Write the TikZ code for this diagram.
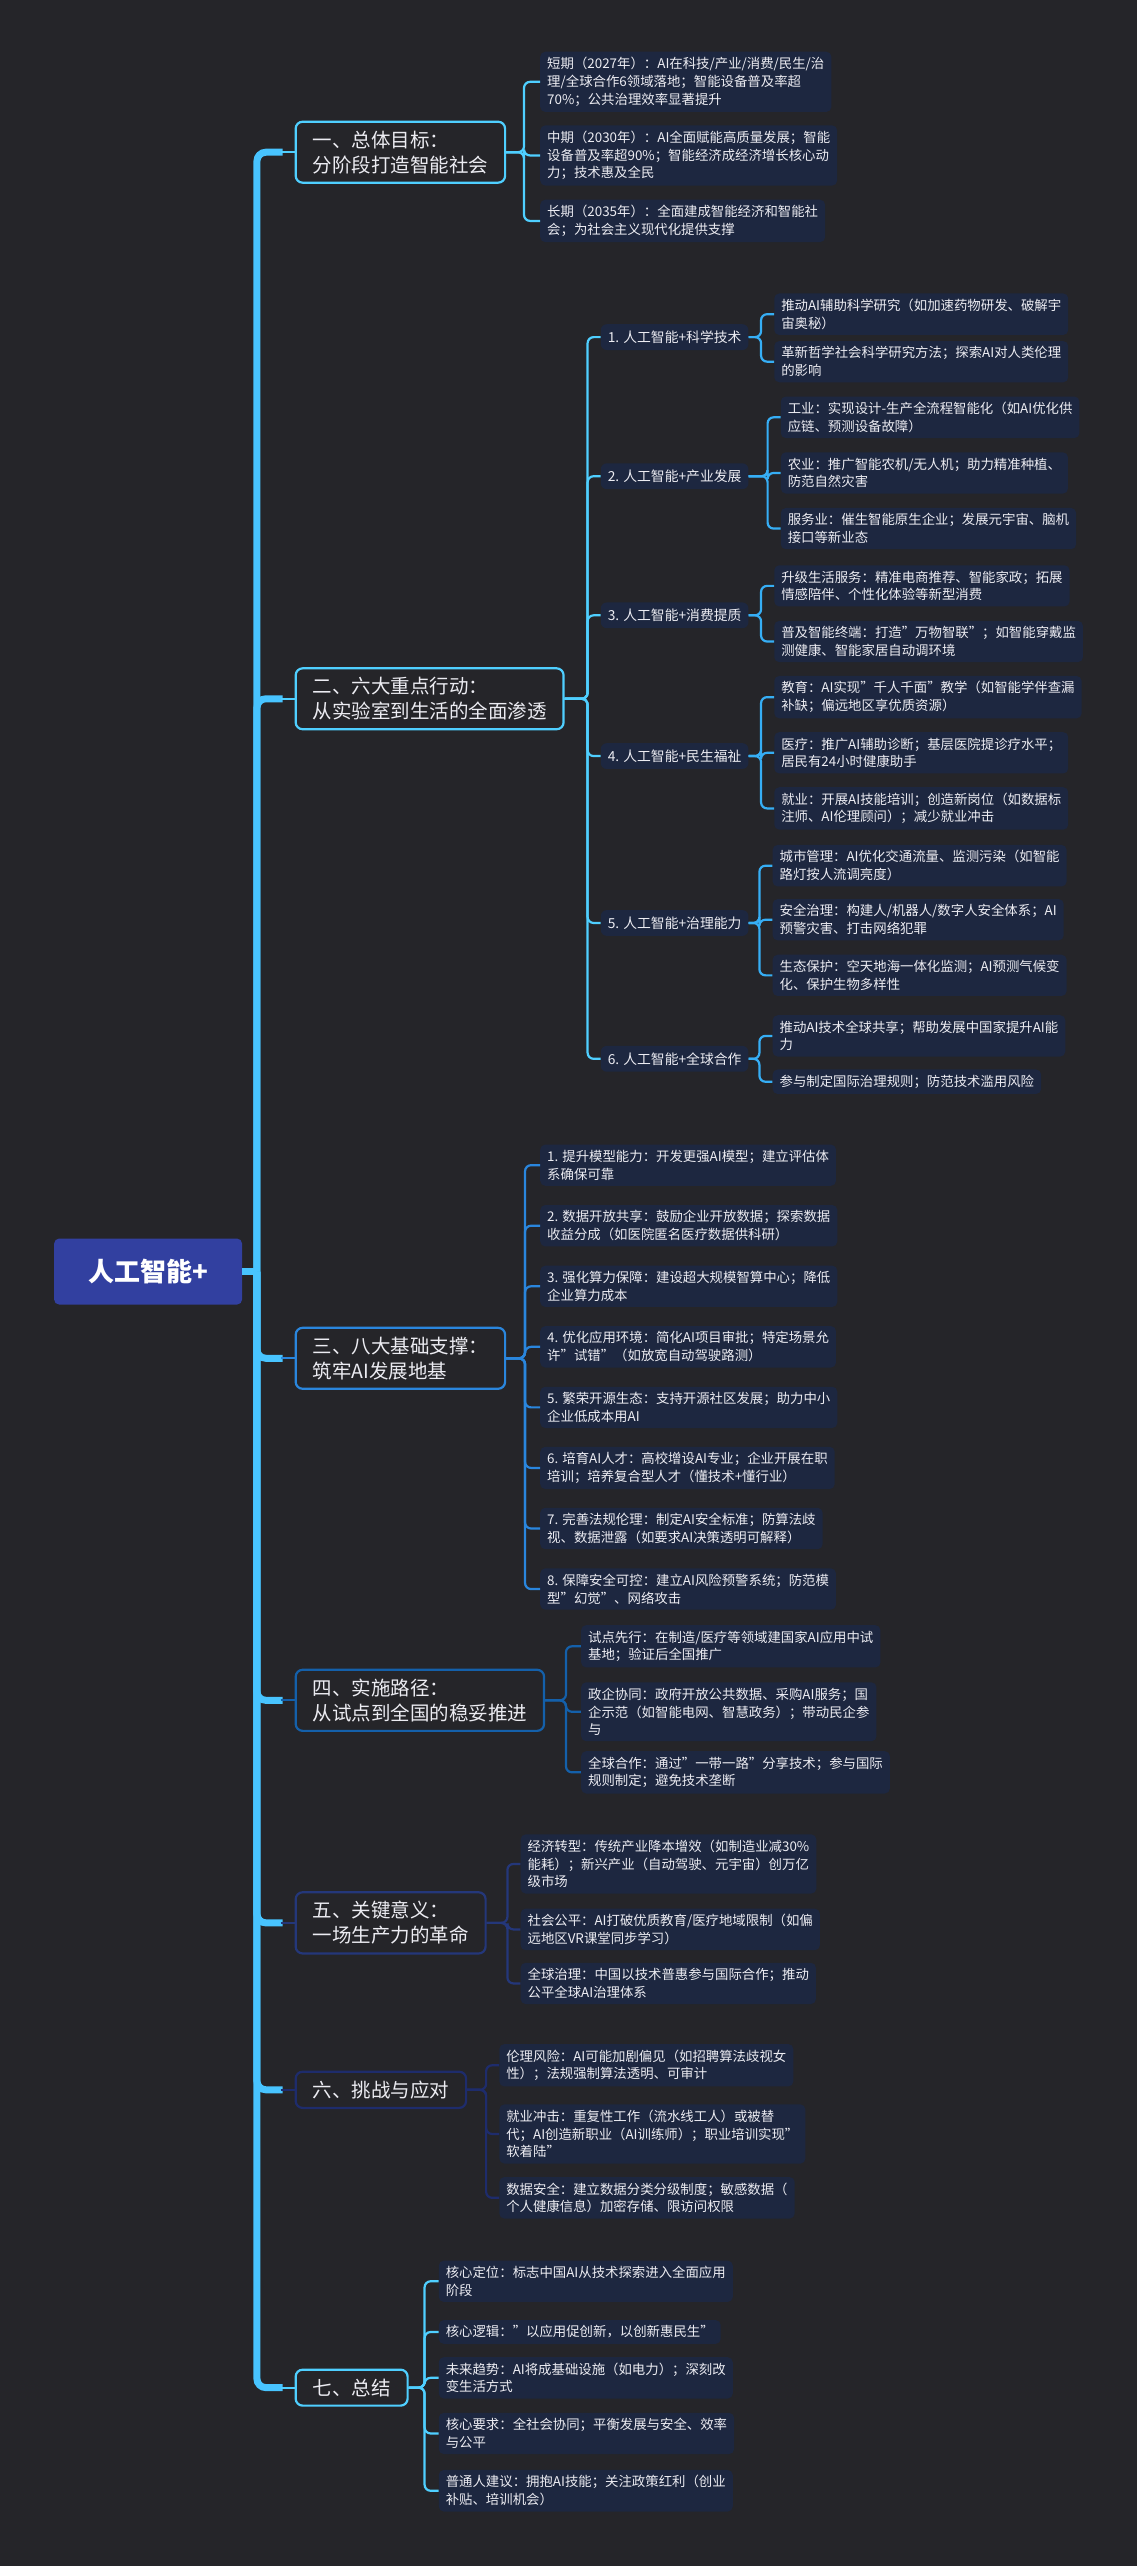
\documentclass[tikz,border=0pt]{standalone}
\usepackage{fontspec}
\setmainfont{Noto Sans CJK SC}
\begin{document}
\begin{tikzpicture}[x=1.637pt,y=-1.637pt,
  leaf/.style={anchor=west,fill=leafbg,text=txt,rounded corners=5pt,align=left,font=\fontsize{13.4}{17.8}\selectfont,inner xsep=7pt,inner ysep=5.5pt},
  sub/.style={anchor=west,fill=leafbg,text=txt,rounded corners=6pt,font=\fontsize{13.8}{17}\selectfont,inner xsep=7pt,inner ysep=6.5pt},
  sec/.style={anchor=west,draw=#1,line width=2.2pt,rounded corners=7pt,text=txt,align=left,font=\fontsize{19.5}{25}\selectfont,inner xsep=17pt,inner ysep=9pt},
  br/.style={draw=#1,line width=2.2pt,rounded corners=6pt},
  trunk/.style={draw=trk,line width=7pt,rounded corners=9pt}]
\definecolor{bgc}{HTML}{252529}
\definecolor{leafbg}{HTML}{1D2740}
\definecolor{rootbg}{HTML}{3240A0}
\definecolor{txt}{HTML}{ECECF2}
\definecolor{trk}{HTML}{48C4FF}
\definecolor{ca}{HTML}{4FCFFF}
\definecolor{cb}{HTML}{36AEF5}
\definecolor{cc}{HTML}{2A86DD}
\definecolor{cd}{HTML}{1460AA}
\definecolor{ce}{HTML}{24377A}
\definecolor{cf}{HTML}{1E2C6C}
\fill[bgc] (0,0) rectangle (695,1568);
\useasboundingbox (0,0) rectangle (695,1568);
% root
\node[fill=rootbg,rounded corners=5pt,minimum width=188pt,minimum height=66pt,text=white,font=\fontsize{26}{30}\selectfont\bfseries] (root) at (90.5,777) {人工智能+};
% sections
\node[sec=ca] (s1) at (180,93) {一、总体目标：\\分阶段打造智能社会};
\node[sec=ca] (s2) at (180,427) {二、六大重点行动：\\从实验室到生活的全面渗透};
\node[sec=cc] (s3) at (180,830) {三、八大基础支撑：\\筑牢AI发展地基};
\node[sec=cd] (s4) at (180,1039) {四、实施路径：\\从试点到全国的稳妥推进};
\node[sec=ce] (s5) at (180,1175) {五、关键意义：\\一场生产力的革命};
\node[sec=cf] (s6) at (180,1277) {六、挑战与应对};
\node[sec=ca] (s7) at (180,1459) {七、总结};
% trunk
\coordinate (tk) at (157,777);
\draw[trunk] (root.east) -- (tk);
\foreach \s in {s1,s2,s3,s4,s5,s6,s7}{\draw[trunk] (tk) |- ([xshift=-12pt]\s.west);}
\foreach \s/\c in {s1/ca,s2/ca,s3/cc,s4/cd,s5/ce,s6/cf,s7/ca}{\draw[br=\c] ([xshift=-14pt]\s.west) -- (\s.west);}
% section 1 leaves
\node[leaf] (a1) at (330,50) {短期（2027年）：AI在科技/产业/消费/民生/治\\理/全球合作6领域落地；智能设备普及率超\\70\%；公共治理效率显著提升};
\node[leaf] (a2) at (330,95) {中期（2030年）：AI全面赋能高质量发展；智能\\设备普及率超90\%；智能经济成经济增长核心动\\力；技术惠及全民};
\node[leaf] (a3) at (330,135) {长期（2035年）：全面建成智能经济和智能社\\会；为社会主义现代化提供支撑};
\foreach \l in {a1,a2,a3}{\draw[br=ca] (s1.east) -- ([xshift=-16pt]\l.west |- s1.east) |- (\l.west);}
% section 2 subs
\node[sub] (b1) at (367,206) {1. 人工智能+科学技术};
\node[sub] (b2) at (367,291) {2. 人工智能+产业发展};
\node[sub] (b3) at (367,376) {3. 人工智能+消费提质};
\node[sub] (b4) at (367,462) {4. 人工智能+民生福祉};
\node[sub] (b5) at (367,564) {5. 人工智能+治理能力};
\node[sub] (b6) at (367,647) {6. 人工智能+全球合作};
\foreach \l in {b1,b2,b3,b4,b5,b6}{\draw[br=ca] (s2.east) -- ([xshift=-13pt]\l.west |- s2.east) |- (\l.west);}
\node[leaf] (b11) at (473,192) {推动AI辅助科学研究（如加速药物研发、破解宇\\宙奥秘）};
\node[leaf] (b12) at (473,221) {革新哲学社会科学研究方法；探索AI对人类伦理\\的影响};
\node[leaf] (b21) at (477,255) {工业：实现设计-生产全流程智能化（如AI优化供\\应链、预测设备故障）};
\node[leaf] (b22) at (477,289) {农业：推广智能农机/无人机；助力精准种植、\\防范自然灾害};
\node[leaf] (b23) at (477,323) {服务业：催生智能原生企业；发展元宇宙、脑机\\接口等新业态};
\node[leaf] (b31) at (473,358) {升级生活服务：精准电商推荐、智能家政；拓展\\情感陪伴、个性化体验等新型消费};
\node[leaf] (b32) at (473,392) {普及智能终端：打造"万物智联"；如智能穿戴监\\测健康、智能家居自动调环境};
\node[leaf] (b41) at (473,426) {教育：AI实现"千人千面"教学（如智能学伴查漏\\补缺；偏远地区享优质资源）};
\node[leaf] (b42) at (473,460) {医疗：推广AI辅助诊断；基层医院提诊疗水平；\\居民有24小时健康助手};
\node[leaf] (b43) at (473,494) {就业：开展AI技能培训；创造新岗位（如数据标\\注师、AI伦理顾问）；减少就业冲击};
\node[leaf] (b51) at (472,529) {城市管理：AI优化交通流量、监测污染（如智能\\路灯按人流调亮度）};
\node[leaf] (b52) at (472,562) {安全治理：构建人/机器人/数字人安全体系；AI\\预警灾害、打击网络犯罪};
\node[leaf] (b53) at (472,596) {生态保护：空天地海一体化监测；AI预测气候变\\化、保护生物多样性};
\node[leaf] (b61) at (472,633) {推动AI技术全球共享；帮助发展中国家提升AI能\\力};
\node[leaf] (b62) at (472,661) {参与制定国际治理规则；防范技术滥用风险};
\foreach \p/\l in {b1/b11,b1/b12,b2/b21,b2/b22,b2/b23,b3/b31,b3/b32,b4/b41,b4/b42,b4/b43,b5/b51,b5/b52,b5/b53,b6/b61,b6/b62}{\draw[br=cb] (\p.east) -- ([xshift=-13pt]\l.west |- \p.east) |- (\l.west);}
% section 3
\node[leaf] (c1) at (330,712) {1. 提升模型能力：开发更强AI模型；建立评估体\\系确保可靠};
\node[leaf] (c2) at (330,749) {2. 数据开放共享：鼓励企业开放数据；探索数据\\收益分成（如医院匿名医疗数据供科研）};
\node[leaf] (c3) at (330,786) {3. 强化算力保障：建设超大规模智算中心；降低\\企业算力成本};
\node[leaf] (c4) at (330,823) {4. 优化应用环境：简化AI项目审批；特定场景允\\许"试错"（如放宽自动驾驶路测）};
\node[leaf] (c5) at (330,860) {5. 繁荣开源生态：支持开源社区发展；助力中小\\企业低成本用AI};
\node[leaf] (c6) at (330,897) {6. 培育AI人才：高校增设AI专业；企业开展在职\\培训；培养复合型人才（懂技术+懂行业）};
\node[leaf] (c7) at (330,934) {7. 完善法规伦理：制定AI安全标准；防算法歧\\视、数据泄露（如要求AI决策透明可解释）};
\node[leaf] (c8) at (330,971) {8. 保障安全可控：建立AI风险预警系统；防范模\\型"幻觉"、网络攻击};
\foreach \l in {c1,c2,c3,c4,c5,c6,c7,c8}{\draw[br=cc] (s3.east) -- ([xshift=-15pt]\l.west |- s3.east) |- (\l.west);}
% section 4
\node[leaf] (d1) at (355,1006) {试点先行：在制造/医疗等领域建国家AI应用中试\\基地；验证后全国推广};
\node[leaf] (d2) at (355,1046) {政企协同：政府开放公共数据、采购AI服务；国\\企示范（如智能电网、智慧政务）；带动民企参\\与};
\node[leaf] (d3) at (355,1083) {全球合作：通过"一带一路"分享技术；参与国际\\规则制定；避免技术垄断};
\foreach \l in {d1,d2,d3}{\draw[br=cd] (s4.east) -- ([xshift=-15pt]\l.west |- s4.east) |- (\l.west);}
% section 5
\node[leaf] (e1) at (318,1139) {经济转型：传统产业降本增效（如制造业减30\%\\能耗）；新兴产业（自动驾驶、元宇宙）创万亿\\级市场};
\node[leaf] (e2) at (318,1179) {社会公平：AI打破优质教育/医疗地域限制（如偏\\远地区VR课堂同步学习）};
\node[leaf] (e3) at (318,1212) {全球治理：中国以技术普惠参与国际合作；推动\\公平全球AI治理体系};
\foreach \l in {e1,e2,e3}{\draw[br=ce] (s5.east) -- ([xshift=-13pt]\l.west |- s5.east) |- (\l.west);}
% section 6
\node[leaf] (f1) at (305,1262) {伦理风险：AI可能加剧偏见（如招聘算法歧视女\\性）；法规强制算法透明、可审计};
\node[leaf] (f2) at (305,1304) {就业冲击：重复性工作（流水线工人）或被替\\代；AI创造新职业（AI训练师）；职业培训实现"\\软着陆"};
\node[leaf] (f3) at (305,1343) {数据安全：建立数据分类分级制度；敏感数据（\\个人健康信息）加密存储、限访问权限};
\foreach \l in {f1,f2,f3}{\draw[br=cf] (s6.east) -- ([xshift=-13pt]\l.west |- s6.east) |- (\l.west);}
% section 7
\node[leaf] (g1) at (268,1394) {核心定位：标志中国AI从技术探索进入全面应用\\阶段};
\node[leaf] (g2) at (268,1425) {核心逻辑："以应用促创新，以创新惠民生"};
\node[leaf] (g3) at (268,1453) {未来趋势：AI将成基础设施（如电力）；深刻改\\变生活方式};
\node[leaf] (g4) at (268,1487) {核心要求：全社会协同；平衡发展与安全、效率\\与公平};
\node[leaf] (g5) at (268,1522) {普通人建议：拥抱AI技能；关注政策红利（创业\\补贴、培训机会）};
\foreach \l in {g1,g2,g3,g4,g5}{\draw[br=ca] (s7.east) -- ([xshift=-14pt]\l.west |- s7.east) |- (\l.west);}
\end{tikzpicture}
\end{document}
